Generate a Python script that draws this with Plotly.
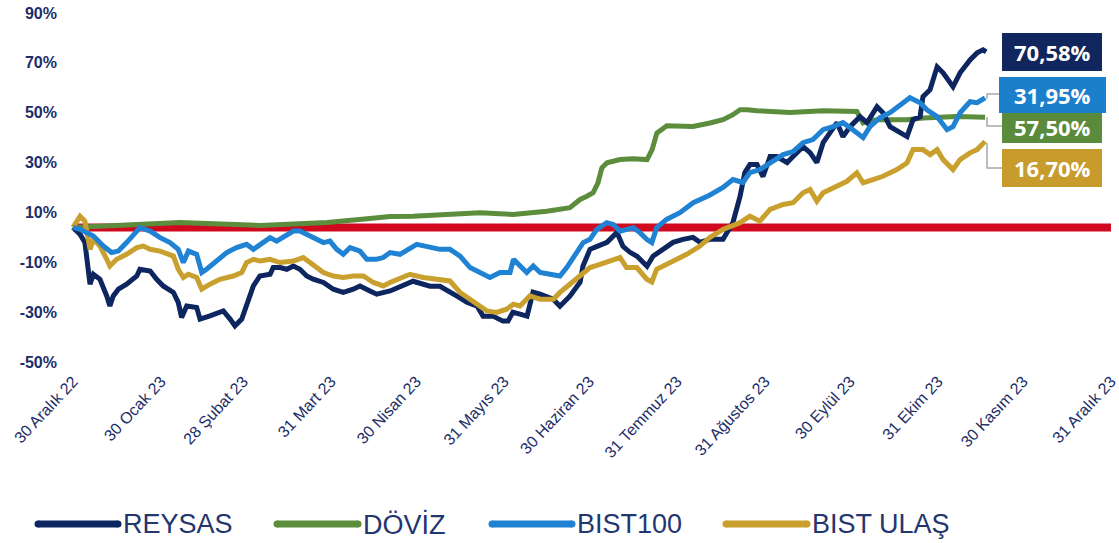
import pandas as pd
import plotly.graph_objects as go

W, H = 1119, 543
START = pd.Timestamp("2022-12-30")

# ---------------- data ----------------
tick_dates = ["2022-12-30", "2023-01-30", "2023-02-28", "2023-03-31", "2023-04-30",
              "2023-05-31", "2023-06-30", "2023-07-31", "2023-08-31", "2023-09-30",
              "2023-10-31", "2023-11-30", "2023-12-31"]
tick_labels = ["30 Aralık 22", "30 Ocak 23", "28 Şubat 23", "31 Mart 23", "30 Nisan 23",
               "31 Mayıs 23", "30 Haziran 23", "31 Temmuz 23", "31 Ağustos 23",
               "30 Eylül 23", "31 Ekim 23", "30 Kasım 23", "31 Aralık 23"]
y_ticks = [-50, -30, -10, 10, 30, 50, 70, 90]

# days since 30 Dec 2022, value in % (as plotted)
reysas_days = [0, 2.5, 4.2, 5.4, 6.0, 7.2, 9.5, 11.9, 13.0, 14.2, 16.0, 18.9, 22.5, 23.6, 27.2,
               29.5, 31.8, 35.4, 37.1, 38.3, 40.1, 43.6, 44.8, 48.3, 53.0, 55.4, 57.1, 59.5,
               61.2, 63.6, 65.9, 69.5, 70.6, 73.0, 75.4, 77.7, 80.0, 82.4, 84.7, 88.3, 91.8,
               95.3, 98.8, 101.2, 104.7, 107.1, 111.8, 119.9, 125.9, 129.4, 135.4, 138.9,
               142.5, 144.6, 148.1, 151.6, 153.4, 155.1, 157.6, 160.1, 162.2, 164.7, 169.3,
               171.7, 175.2, 178.8, 179.8, 182.3, 184.8, 188.3, 191.8, 193.9, 196.4, 198.9,
               201.0, 202.4, 204.5, 208.0, 211.6, 215.1, 218.6, 221.1, 224.6, 229.2, 232.7,
               235.2, 236.9, 238.7, 241.2, 243.3, 245.8, 248.2, 251.8, 253.9, 257.4, 259.9,
               262.3, 264.5, 266.9, 269.4, 271.5, 274.0, 277.5, 280.0, 283.5, 285.6, 288.1,
               291.6, 294.1, 296.2, 298.7, 299.7, 302.2, 304.7, 306.8, 310.3, 312.8, 316.3,
               318.8, 320.9, 322]
reysas_vals = [4, 1.2, -2.1, -14.1, -18.8, -14.8, -16.8, -23.5, -27.5, -23.5, -20.8, -18.8,
               -15.5, -12.8, -13.5, -16.8, -19.5, -22.1, -26.1, -32.1, -27.5, -28.1, -32.8,
               -31.5, -29.5, -32.8, -35.5, -32.8, -27.5, -19.5, -15.5, -14.8, -12.1, -12.1,
               -12.8, -11.5, -12.8, -15.5, -16.8, -18.1, -20.8, -22.1, -20.8, -19.5, -21.5,
               -22.8, -21.5, -17.6, -19.6, -19.6, -23.6, -26, -27.6, -31.6, -31.6, -33.6,
               -33.6, -30, -30.8, -31.6, -22, -22.8, -24.8, -27.6, -23.6, -18, -11.6, -4.8,
               -3.6, -2, 2, -3.6, -6, -7.6, -10, -11.6, -7.6, -4.8, -2, -0.8, 0, -2, -0.8,
               -0.8, 6, 16.4, 26, 29.2, 29.2, 24.4, 32.4, 32.4, 30, 32.4, 36.4, 34, 30, 38,
               42, 46, 40.4, 44.4, 48.4, 46, 52.4, 50, 44.4, 42, 40.4, 47.2, 48.4, 56.4,
               59.2, 68.4, 66, 60.4, 66, 71.2, 74, 75.2, 74.4]

doviz_days = [0, 7, 37.7, 66, 77.6, 89.6, 101, 111.8, 119.9, 131.9, 143.5, 155.1, 167.1,
              175.2, 178.8, 181.2, 183.4, 185.1, 186.5, 188.3, 192.9, 197.5, 202.4, 204.2,
              205.9, 209.4, 214.0, 218.6, 224.6, 229.2, 232.7, 235.2, 237.7, 241.2, 252.8,
              264.5, 276.4, 277.5, 278.6, 280.0, 283.5, 294.1, 299.7, 311.7, 321.6]
doviz_vals = [4, 4.4, 6, 4.8, 5.2, 6, 7.2, 8.4, 8.5, 9.2, 9.9, 9.2, 10.5, 11.9, 15.2, 16.5,
              17.9, 21.9, 27.9, 29.9, 31.2, 31.5, 31.2, 35.2, 41.9, 44.8, 44.5, 44.5, 45.9,
              47.2, 49.2, 51.2, 51.2, 50.8, 50.1, 50.8, 50.5, 48.5, 45.9, 46.5, 47.2, 47.2,
              47.9, 48.5, 48.2]

bist100_days = [0, 2.5, 7.2, 10.7, 13.6, 16.0, 18.9, 23.6, 27.2, 30.7, 34.2, 37.1, 38.9,
                40.7, 43.6, 45.4, 47.1, 50.7, 54.2, 57.7, 61.2, 63.6, 65.9, 69.5, 71.8, 75.4,
                77.7, 80.0, 82.4, 85.9, 88.3, 90.6, 93.0, 95.3, 97.7, 101.2, 103.6, 107.1,
                109.4, 111.8, 115.3, 121.2, 125.9, 129.4, 132.9, 136.5, 140.0, 143.5, 147.0,
                150.6, 154.1, 155.3, 157.6, 160.0, 162.3, 164.7, 168.2, 171.7, 174.1, 177.6,
                179.9, 182.3, 184.7, 188.2, 190.5, 192.9, 195.2, 197.6, 199.9, 202.3, 204.1,
                205.8, 209.3, 214.0, 218.7, 224.6, 229.2, 232.7, 236.2, 238.7, 242.2, 245.8,
                250.4, 253.9, 257.4, 260.9, 264.5, 268.0, 271.5, 275.0, 278.6, 281.0, 284.6,
                288.1, 291.6, 295.1, 298.7, 301.1, 304.7, 308.2, 310.3, 312.8, 316.3, 318.8,
                321.6]
bist100_vals = [4, 3.2, 0.5, -3.5, -6.1, -5.5, -2.1, 3.9, 2.5, -0.1, -2.1, -4.8, -10.1, -5.5,
                -6.8, -14.1, -12.8, -9.5, -6.1, -4.1, -2.8, -4.8, -2.8, -0.1, -1.5, 1.2, 2.5,
                2.5, 1.2, -0.8, -2.1, -1.5, -4.8, -6.8, -4.1, -5.5, -8.8, -8.8, -8.1, -6.1,
                -6.8, -2.8, -4.1, -4.8, -4.8, -7.5, -12.1, -14.1, -16.1, -14.1, -14.1, -8.8,
                -11.5, -14.1, -11.5, -14.1, -14.8, -15.5, -12.1, -6.1, -2.1, -0.8, 3.2, 5.9,
                5.2, 2.5, 3.2, 3.9, 1.9, -0.8, -2.1, 3.9, 7.2, 9.9, 13.9, 17, 20, 23.2, 22,
                26, 27.2, 30, 33.2, 34.4, 38, 39.2, 43.2, 44.4, 46, 43.2, 40, 44.4, 48, 50,
                53.2, 56, 54, 51.2, 48.4, 43.2, 44.4, 50, 54.4, 54, 56]

ulas_days = [0, 2.5, 4.2, 5.4, 6.0, 7.2, 9.5, 11.9, 13.0, 15.4, 18.9, 22.5, 24.8, 27.2, 30.7,
             35.4, 37.1, 38.9, 40.7, 43.6, 45.4, 48.3, 51.8, 56.5, 59.5, 61.2, 63.6, 65.9,
             69.5, 73.0, 77.7, 81.2, 84.7, 88.3, 91.8, 95.3, 98.8, 102.4, 105.9, 109.4, 111.8,
             118.8, 123.5, 128.2, 132.9, 136.5, 141.2, 145.9, 149.4, 152.9, 155.3, 157.6,
             161.1, 164.7, 169.4, 171.7, 175.2, 178.8, 182.3, 185.8, 190.5, 192.9, 195.2,
             198.8, 202.3, 204.1, 205.8, 210.5, 216.4, 221.1, 224.6, 229.2, 235.2, 238.7,
             242.2, 245.8, 250.4, 253.9, 257.4, 259.9, 262.3, 264.5, 269.4, 272.9, 276.4,
             278.6, 282.1, 285.6, 290.5, 294.1, 296.2, 299.7, 302.2, 304.7, 306.8, 310.3,
             312.8, 316.3, 318.8, 321.6]
ulas_vals = [4, 8.5, 6.5, -0.8, -4.8, -0.8, -3.5, -8.8, -11.5, -8.8, -6.8, -4.1, -3.5, -4.8,
             -5.5, -7.5, -12.8, -16.1, -14.8, -16.1, -20.8, -18.8, -16.8, -15.5, -14.1, -10.1,
             -8.8, -9.5, -8.8, -10.1, -9.5, -8.1, -10.8, -14.1, -15.5, -16.1, -15.5, -15.5,
             -18.1, -19.5, -18.1, -14.8, -16.1, -16.8, -17.5, -22.1, -26.1, -29.5, -30.1,
             -28.8, -26.8, -27.5, -23.5, -24.8, -24.8, -22.1, -18.8, -15.5, -12.1, -10.8,
             -8.8, -8.1, -12.1, -12.1, -16.8, -17.9, -12.8, -10.1, -6.8, -3.5, 0, 3.2, 5.9,
             8.5, 6.5, 11.2, 13.2, 13.9, 17.9, 19.2, 14.5, 17.9, 20.5, 22.5, 25.9, 21.9,
             23.2, 24.5, 27.2, 29.9, 35.2, 35.2, 33.2, 35.2, 31.2, 27.2, 31.2, 33.9, 35.2,
             38.5]

baseline_dates = ["2022-12-30", "2023-12-31"]
baseline_vals = [4, 4]

series_names = ["REYSAS", "DÖVİZ", "BIST100", "BIST ULAŞ"]
end_labels = ["70,58%", "31,95%", "57,50%", "16,70%"]

# ---------------- styles ----------------
C_NAVY = "#0d2660"
C_GREEN = "#5b8d3c"
C_BLUE = "#1f82d2"
C_GOLD = "#c9a02e"
C_RED = "#d0091e"
TXT = "#1c2e68"
FONT = "Liberation Sans"
LW = 5


def to_dates(days):
    return START + pd.to_timedelta(days, unit="D")


# pixel helpers (margins are 0, so paper == whole figure)
def px(x):
    return x / W


def py(y):
    return 1 - y / H


PX0, PXD = 73.0, 2.836          # x pixel of START, pixels per day
PL, PR, PT, PB = 62, 1115, 13, 362


def px_date(p):
    return START + pd.to_timedelta((p - PX0) / PXD, unit="D")


fig = go.Figure()

fig.add_trace(go.Scatter(x=pd.to_datetime(baseline_dates), y=baseline_vals, mode="lines",
                         line=dict(color=C_RED, width=8), hoverinfo="skip", showlegend=False))
fig.add_trace(go.Scatter(x=to_dates(doviz_days), y=doviz_vals, mode="lines", name=series_names[1],
                         line=dict(color=C_GREEN, width=LW), showlegend=False))
fig.add_trace(go.Scatter(x=to_dates(reysas_days), y=reysas_vals, mode="lines", name=series_names[0],
                         line=dict(color=C_NAVY, width=LW), showlegend=False))
fig.add_trace(go.Scatter(x=to_dates(ulas_days), y=ulas_vals, mode="lines", name=series_names[3],
                         line=dict(color=C_GOLD, width=LW), showlegend=False))
fig.add_trace(go.Scatter(x=to_dates(bist100_days), y=bist100_vals, mode="lines", name=series_names[2],
                         line=dict(color=C_BLUE, width=LW), showlegend=False))

shapes = []
annotations = []

# end-value boxes
boxes = [
    (end_labels[0], "#10265c", (1002, 33, 1102, 71), 52),
    (end_labels[2], "#5a8a3b", (1002, 113, 1102, 143), 127),
    (end_labels[1], "#1c7fcc", (999, 77, 1106, 113), 95),
    (end_labels[3], "#c79b2c", (1002, 149, 1102, 187), 168),
]
# connectors
for path in ["M {},{} L {},{} L {},{}".format(px(987), py(99), px(987), py(94), px(999), py(94)),
             "M {},{} L {},{} L {},{}".format(px(987), py(117), px(987), py(126), px(1002), py(126)),
             "M {},{} L {},{} L {},{}".format(px(987), py(143), px(987), py(168), px(1002), py(168))]:
    shapes.append(dict(type="path", xref="paper", yref="paper", path=path,
                       line=dict(color="#a8a8a8", width=1.5)))
for text, col, (x0, y0, x1, y1), yc in boxes:
    shapes.append(dict(type="rect", xref="paper", yref="paper", x0=px(x0), x1=px(x1),
                       y0=py(y1), y1=py(y0), fillcolor=col, line=dict(width=0), layer="above"))
    annotations.append(dict(xref="paper", yref="paper", x=px((x0 + x1) / 2), y=py(yc),
                            text="<b>" + text + "</b>", showarrow=False, xanchor="center",
                            yanchor="middle", font=dict(family="Open Sans", size=22, color="white")))

# custom legend
legend_items = [(series_names[0], C_NAVY, 38, 118), (series_names[1], C_GREEN, 277, 358),
                (series_names[2], C_BLUE, 492, 572), (series_names[3], C_GOLD, 726, 807)]
LY = 524
for name, col, x0, x1 in legend_items:
    shapes.append(dict(type="line", xref="paper", yref="paper", x0=px(x0), x1=px(x1),
                       y0=py(LY), y1=py(LY), line=dict(color=col, width=7)))
    for cx in (x0, x1):
        shapes.append(dict(type="circle", xref="paper", yref="paper", x0=px(cx - 3.5),
                           x1=px(cx + 3.5), y0=py(LY + 3.5), y1=py(LY - 3.5), fillcolor=col,
                           line=dict(width=0)))
    annotations.append(dict(xref="paper", yref="paper", x=px(x1 + 3), y=py(LY), text=name,
                            showarrow=False, xanchor="left", yanchor="middle",
                            font=dict(family=FONT, size=27, color="#233670")))

fig.update_layout(
    width=W, height=H,
    margin=dict(l=0, r=0, t=0, b=0, pad=0, autoexpand=False),
    paper_bgcolor="white", plot_bgcolor="white",
    showlegend=False,
    shapes=shapes, annotations=annotations,
    xaxis=dict(type="date", domain=[px(PL), px(PR)], range=[px_date(PL), px_date(PR)],
               tickmode="array", tickvals=pd.to_datetime(tick_dates), ticktext=tick_labels,
               tickangle=-47, tickfont=dict(family=FONT, size=16, color=TXT),
               showgrid=False, zeroline=False, showline=False, ticks="",
               ticklabelstandoff=6, ticklabeloverflow="allow", automargin=False,
               fixedrange=True),
    yaxis=dict(domain=[py(PB), py(PT)], range=[-50, 90], tickmode="array",
               tickvals=y_ticks, ticktext=["<b>{}%</b>".format(v) for v in y_ticks],
               tickfont=dict(family=FONT, size=16, color=TXT), showgrid=False,
               zeroline=False, showline=False, ticks="", ticklabelstandoff=4,
               ticklabeloverflow="allow", automargin=False, fixedrange=True),
)

fig.write_html("out.html", config={"displayModeBar": False},
               post_script="document.body.style.margin='0';document.body.style.overflow='hidden';")
